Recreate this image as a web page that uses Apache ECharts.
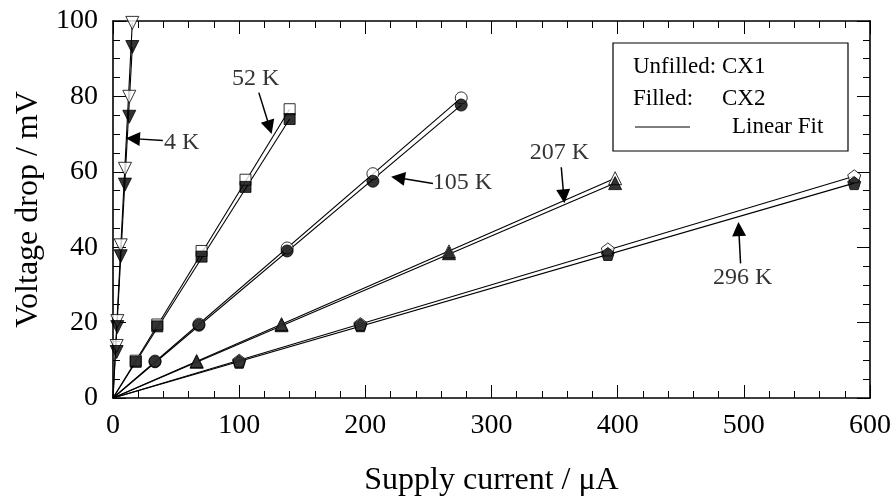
<!DOCTYPE html>
<html>
<head>
<meta charset="utf-8">
<script src="https://cdn.jsdelivr.net/npm/echarts@6/dist/echarts.min.js"></script>
<style>
  html, body { margin: 0; padding: 0; background: #fff; }
  #main { width: 894px; height: 502px; }
</style>
</head>
<body>
<div id="main"></div>
<script>
// data: [supply current / uA, voltage drop / mV]
var cx1_4K   = [[2.9, 13.8], [3.4, 20.4], [6.1, 40.5], [9.5, 60.8], [12.9, 79.9], [15.3, 99.5]];
var cx2_4K   = [[2.9, 12.2], [3.4, 18.8], [6.1, 37.6], [9.5, 56.6], [12.9, 74.6], [15.3, 93.1]];
var cx1_52K  = [[18, 9.9], [35.1, 19.5], [70.2, 39], [105, 57.9], [140, 76.6]];
var cx2_52K  = [[18, 9.6], [35.1, 19], [70.2, 37.5], [105, 56], [140, 74]];
var cx1_105K = [[33.3, 9.8], [68.1, 19.6], [138, 39.8], [206, 59.5], [276, 79.6]];
var cx2_105K = [[33.3, 9.6], [68.1, 19.3], [138, 39], [206, 57.5], [276, 77.7]];
var cx1_207K = [[66.3, 9.8], [133.6, 19.6], [266.3, 38.9], [398, 58.3]];
var cx2_207K = [[66.3, 9.6], [133.6, 19.3], [266.3, 38.4], [398, 57]];
var cx1_296K = [[100, 9.9], [196.1, 19.6], [392.2, 39.4], [587.5, 58.8]];
var cx2_296K = [[100, 9.6], [196.1, 19.3], [392.2, 38.2], [587.5, 57]];

var xTicks = [0, 100, 200, 300, 400, 500, 600];
var yTicks = [0, 20, 40, 60, 80, 100];

// annotation labels and arrows (tail -> head), in data units
var noteNames = ['4 K', '52 K', '105 K', '207 K', '296 K'];
var notePos   = [[54.4, 67.8], [113, 84.7], [276.9, 57.1], [353.9, 65], [499, 31.9]];
var arrowTail = [[39.5, 68.3], [115.6, 81], [253.6, 56.9], [355.3, 61.2], [497.4, 35.7]];
var arrowHead = [[15.8, 68.8], [124.1, 71.8], [225.9, 58.4], [357.3, 53.5], [496, 44.8]];

var FONT = 'Liberation Serif';
var triDown = 'path://M-1,-0.9L1,-0.9L0,0.9Z';
var pentagon = 'path://M0,-1L0.951,-0.309L0.588,0.809L-0.588,0.809L-0.951,-0.309Z';

var groups = [
  { cx1: cx1_4K,   cx2: cx2_4K,   symbol: triDown,    size: 13 },
  { cx1: cx1_52K,  cx2: cx2_52K,  symbol: 'rect',     size: 11 },
  { cx1: cx1_105K, cx2: cx2_105K, symbol: 'circle',   size: 12 },
  { cx1: cx1_207K, cx2: cx2_207K, symbol: 'triangle', size: 13 },
  { cx1: cx1_296K, cx2: cx2_296K, symbol: pentagon,   size: 13 }
];

var chart = echarts.init(document.getElementById('main'));

function axisCommon(showLabel) {
    return {
        type: 'value',
        axisLine: { show: true, onZero: false, lineStyle: { color: '#000', width: 1.6 } },
        axisTick: { show: true, inside: true, length: 13, lineStyle: { color: '#000', width: 1 } },
        minorTick: { show: true, length: 7, lineStyle: { color: '#000', width: 1 } },
        splitLine: { show: false },
        axisLabel: {
            show: showLabel, color: '#000', fontFamily: FONT, fontSize: 28,
            showMinLabel: true, showMaxLabel: true
        }
    };
}

var xBottom = axisCommon(true);
xBottom.min = xTicks[0]; xBottom.max = xTicks[xTicks.length - 1]; xBottom.interval = 100;
xBottom.position = 'bottom';
xBottom.minorTick.splitNumber = 5;
xBottom.axisLabel.margin = 14;
xBottom.name = 'Supply current / μA';
xBottom.nameLocation = 'middle';
xBottom.nameGap = 67;
xBottom.nameTextStyle = { color: '#000', fontFamily: FONT, fontSize: 32 };

var xTop = axisCommon(false);
xTop.min = xTicks[0]; xTop.max = xTicks[xTicks.length - 1]; xTop.interval = 100;
xTop.position = 'top';
xTop.minorTick.splitNumber = 5;

var yLeft = axisCommon(true);
yLeft.min = yTicks[0]; yLeft.max = yTicks[yTicks.length - 1]; yLeft.interval = 20;
yLeft.position = 'left';
yLeft.minorTick.splitNumber = 4;
yLeft.axisLabel.margin = 15;
yLeft.name = 'Voltage drop / mV';
yLeft.nameLocation = 'middle';
yLeft.nameGap = 68;
yLeft.nameTextStyle = { color: '#000', fontFamily: FONT, fontSize: 32 };

var yRight = axisCommon(false);
yRight.min = yTicks[0]; yRight.max = yTicks[yTicks.length - 1]; yRight.interval = 20;
yRight.position = 'right';
yRight.minorTick.splitNumber = 4;

var series = [];

// linear fits: origin to the last measured point of each set
groups.forEach(function (g) {
    [g.cx1, g.cx2].forEach(function (pts) {
        series.push({
            type: 'line',
            data: [[0, 0], pts[pts.length - 1]],
            showSymbol: false,
            silent: true,
            lineStyle: { color: '#000', width: 1.1 },
            z: 2
        });
    });
});

// markers: unfilled (CX1) under filled (CX2)
groups.forEach(function (g) {
    series.push({
        type: 'scatter',
        data: g.cx1,
        symbol: g.symbol,
        symbolSize: g.size,
        itemStyle: { color: '#fff', borderColor: '#000', borderWidth: 1 },
        z: 3
    });
    series.push({
        type: 'scatter',
        data: g.cx2,
        symbol: g.symbol,
        symbolSize: g.size,
        itemStyle: { color: '#000', borderColor: '#000', borderWidth: 1 },
        z: 4
    });
});

// temperature labels
series.push({
    type: 'scatter',
    symbolSize: 0,
    silent: true,
    data: notePos.map(function (p, i) { return { name: noteNames[i], value: p }; }),
    label: {
        show: true, position: 'inside', formatter: '{b}',
        color: '#000', fontFamily: FONT, fontSize: 24
    },
    z: 5
});

// arrows
series.push({
    type: 'lines',
    coordinateSystem: 'cartesian2d',
    silent: true,
    symbol: ['none', 'triangle'],
    symbolSize: [9, 14],
    lineStyle: { color: '#000', width: 1.5, opacity: 1 },
    data: arrowTail.map(function (t, i) { return { coords: [t, arrowHead[i]] }; }),
    z: 5
});

var legendFont = '23px "Liberation Serif"';

var option = {
    backgroundColor: '#fff',
    animation: false,
    grid: { left: 113, right: 23, top: 21, bottom: 103, containLabel: false },
    xAxis: [xBottom, xTop],
    yAxis: [yLeft, yRight],
    series: series,
    graphic: [{
        type: 'group',
        x: 613,
        y: 43,
        children: [
            { type: 'rect', shape: { x: 0, y: 0, width: 235, height: 108 },
              style: { fill: '#fff', stroke: '#000', lineWidth: 1.2 } },
            { type: 'text', x: 20, y: 24,
              style: { text: 'Unfilled:', font: legendFont, fill: '#000', verticalAlign: 'middle' } },
            { type: 'text', x: 109, y: 24,
              style: { text: 'CX1', font: legendFont, fill: '#000', verticalAlign: 'middle' } },
            { type: 'text', x: 20, y: 56,
              style: { text: 'Filled:', font: legendFont, fill: '#000', verticalAlign: 'middle' } },
            { type: 'text', x: 109, y: 56,
              style: { text: 'CX2', font: legendFont, fill: '#000', verticalAlign: 'middle' } },
            { type: 'line', shape: { x1: 22, y1: 84, x2: 77, y2: 84 },
              style: { stroke: '#000', lineWidth: 1 } },
            { type: 'text', x: 119, y: 84,
              style: { text: 'Linear Fit', font: legendFont, fill: '#000', verticalAlign: 'middle' } }
        ]
    }]
};

chart.setOption(option);
</script>
</body>
</html>
